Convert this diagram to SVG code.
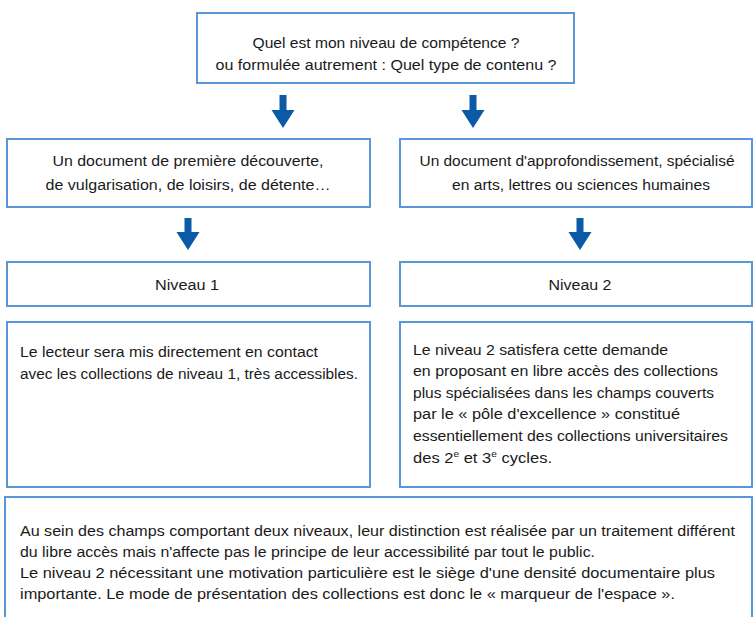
<svg xmlns="http://www.w3.org/2000/svg" width="755" height="617" viewBox="0 0 755 617">
<style>
.box{fill:#ffffff;stroke:#5a97d6;stroke-width:2}
.t{font-family:"Liberation Sans",Arial,sans-serif;font-size:15.5px;fill:#1a1a1a}
.c{text-anchor:middle}
.arr{fill:#0b5aa8}
</style>
<rect width="755" height="617" fill="#ffffff"/>
<g id="q">
<rect class="box" x="197" y="13" width="377" height="70"/>
<text class="t c" x="386" y="48" textLength="267" lengthAdjust="spacingAndGlyphs">Quel est mon niveau de compétence ?</text>
<text class="t c" x="386" y="70" textLength="341" lengthAdjust="spacingAndGlyphs">ou formulée autrement : Quel type de contenu ?</text>
</g>
<g id="doc1">
<rect class="box" x="7" y="139" width="363" height="68"/>
<text class="t c" x="188" y="166" textLength="271" lengthAdjust="spacingAndGlyphs">Un document de première découverte,</text>
<text class="t c" x="188" y="190" textLength="285" lengthAdjust="spacingAndGlyphs">de vulgarisation, de loisirs, de détente…</text>
</g>
<g id="doc2">
<rect class="box" x="400" y="139" width="352" height="68"/>
<text class="t c" x="577" y="166" textLength="315" lengthAdjust="spacingAndGlyphs">Un document d'approfondissement, spécialisé</text>
<text class="t c" x="581" y="190" textLength="258" lengthAdjust="spacingAndGlyphs">en arts, lettres ou sciences humaines</text>
</g>
<g id="niv1">
<rect class="box" x="7" y="262" width="363" height="44"/>
<text class="t c" x="187" y="290" textLength="64" lengthAdjust="spacingAndGlyphs">Niveau 1</text>
</g>
<g id="niv2">
<rect class="box" x="400" y="262" width="352" height="44"/>
<text class="t c" x="580" y="290" textLength="63" lengthAdjust="spacingAndGlyphs">Niveau 2</text>
</g>
<g id="txt1">
<rect class="box" x="7" y="322" width="363" height="165"/>
<text class="t" x="20" y="357" textLength="298" lengthAdjust="spacingAndGlyphs">Le lecteur sera mis directement en contact</text>
<text class="t" x="20" y="379" textLength="338" lengthAdjust="spacingAndGlyphs">avec les collections de niveau 1, très accessibles.</text>
</g>
<g id="txt2">
<rect class="box" x="400" y="322" width="352" height="165"/>
<text class="t" x="413" y="355" textLength="255" lengthAdjust="spacingAndGlyphs">Le niveau 2 satisfera cette demande</text>
<text class="t" x="413" y="376" textLength="305" lengthAdjust="spacingAndGlyphs">en proposant en libre accès des collections</text>
<text class="t" x="413" y="398" textLength="301" lengthAdjust="spacingAndGlyphs">plus spécialisées dans les champs couverts</text>
<text class="t" x="413" y="419" textLength="267" lengthAdjust="spacingAndGlyphs">par le « pôle d'excellence » constitué</text>
<text class="t" x="413" y="441" textLength="315" lengthAdjust="spacingAndGlyphs">essentiellement des collections universitaires</text>
<text class="t" x="413" y="463" textLength="139" lengthAdjust="spacingAndGlyphs">des 2<tspan font-size="9.5" dy="-6">e</tspan><tspan dy="6"> et 3</tspan><tspan font-size="9.5" dy="-6">e</tspan><tspan dy="6"> cycles.</tspan></text>
</g>
<g id="note">
<rect class="box" x="5" y="497" width="747" height="130"/>
<text class="t" x="20" y="536" textLength="715" lengthAdjust="spacingAndGlyphs">Au sein des champs comportant deux niveaux, leur distinction est réalisée par un traitement différent</text>
<text class="t" x="20" y="557" textLength="575" lengthAdjust="spacingAndGlyphs">du libre accès mais n'affecte pas le principe de leur accessibilité par tout le public.</text>
<text class="t" x="20" y="578" textLength="695" lengthAdjust="spacingAndGlyphs">Le niveau 2 nécessitant une motivation particulière est le siège d'une densité documentaire plus</text>
<text class="t" x="20" y="599" textLength="655" lengthAdjust="spacingAndGlyphs">importante. Le mode de présentation des collections est donc le « marqueur de l'espace ».</text>
</g>
<g id="connectors">
<path class="arr" d="M279.5,95 h7 v15 h8 L283,128 L271.5,110 h8 z"/>
<path class="arr" d="M469.5,95 h7 v15 h8 L473,128 L461.5,110 h8 z"/>
<path class="arr" d="M184.5,218 h7 v14 h8 L188,250 L176.5,232 h8 z"/>
<path class="arr" d="M576.5,218 h7 v14 h8 L580,250 L568.5,232 h8 z"/>
</g>
</svg>
